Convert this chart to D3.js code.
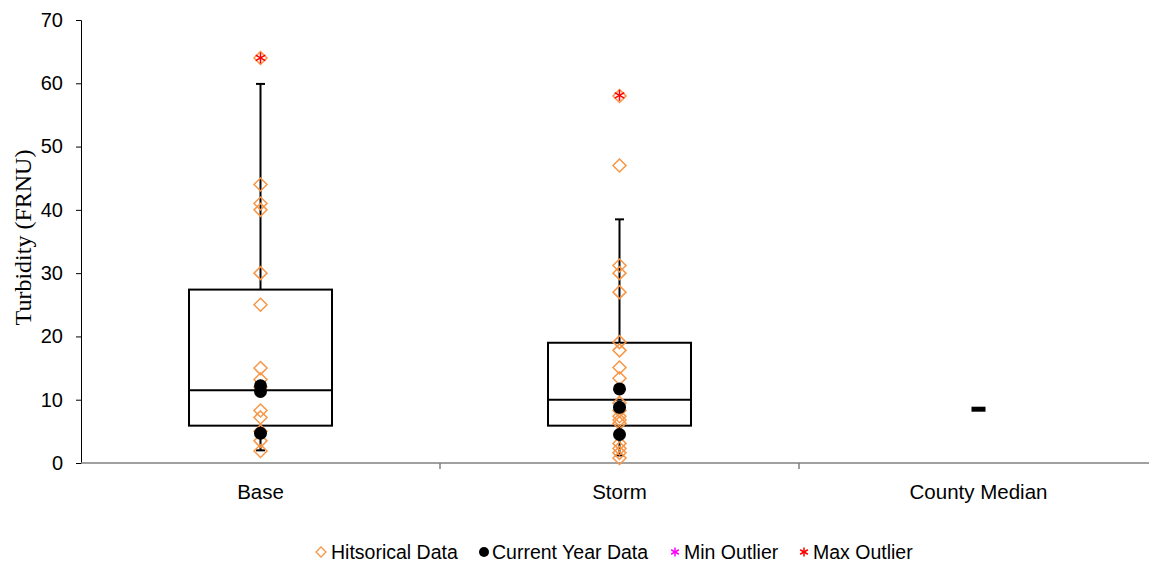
<!DOCTYPE html>
<html>
<head>
<meta charset="utf-8">
<script src="https://cdn.jsdelivr.net/npm/d3@7"></script>
<style>
  body { margin: 0; background: #fff; }
  svg { display: block; font-family: Arial, "Liberation Sans", sans-serif; }
</style>
</head>
<body>
<div id="chart"></div>
<script>
// Categories and box statistics
const categories = ['Base', 'Storm', 'County Median'];
const boxStats = [
    { cat: 'Base', low: 2.0, q1: 5.9, median: 11.5, q3: 27.4, high: 59.9 },
    { cat: 'Storm', low: 1.2, q1: 5.9, median: 10.0, q3: 19.0, high: 38.5 }
];
const countyMedian = 8.5;

// Historical data points (diamonds)
const baseHistorical = [64, 44, 41, 40, 30, 25, 15, 13.2, 12, 8.3, 7.2, 5, 3.5, 1.9];
const stormHistorical = [58, 47, 31.2, 30, 27, 19.1, 17.8, 15.1, 13.4, 9.5, 8.3, 7.4, 6.8, 6.3, 3.1, 2.3, 1.6, 0.8];

// Current year data points (black dots)
const baseCurrent = [12.2, 11.3, 4.7];
const stormCurrent = [11.7, 8.8, 4.5];

// Outliers
const maxOutliers = [{ cat: 'Base', value: 64 }, { cat: 'Storm', value: 58.1 }];

const yTicks = [0, 10, 20, 30, 40, 50, 60, 70];

const width = 1149, height = 566;
const orange = '#F79646';

const svg = d3.select('#chart').append('svg')
    .attr('width', width)
    .attr('height', height);

const x = d3.scaleBand()
    .domain(categories)
    .range([81, 1158])
    .paddingInner(0)
    .paddingOuter(0);

const y = d3.scaleLinear()
    .domain([0, 70])
    .range([463, 20]);

const cx = c => x(c) + x.bandwidth() / 2;

// Y axis
const yAxis = d3.axisLeft(y)
    .tickValues(yTicks)
    .tickSize(5)
    .tickPadding(13);

const yg = svg.append('g')
    .attr('transform', 'translate(81,0)')
    .call(yAxis);
yg.select('.domain').attr('stroke', '#000').attr('stroke-width', 1);
yg.selectAll('.tick line').attr('stroke', '#000');
yg.selectAll('.tick text')
    .attr('font-size', '20px')
    .attr('font-family', 'Arial, "Liberation Sans", sans-serif')
    .attr('fill', '#000');

// X axis line
svg.append('line')
    .attr('x1', 81).attr('x2', width)
    .attr('y1', y(0)).attr('y2', y(0))
    .attr('stroke', '#808080')
    .attr('stroke-width', 1.5);

// Category dividers
categories.slice(1).forEach(c => {
    svg.append('line')
        .attr('x1', x(c)).attr('x2', x(c))
        .attr('y1', y(0)).attr('y2', y(0) + 6)
        .attr('stroke', '#808080')
        .attr('stroke-width', 1.5);
});

// Category labels
svg.selectAll('.cat-label')
    .data(categories)
    .enter()
    .append('text')
    .attr('class', 'cat-label')
    .attr('x', d => cx(d))
    .attr('y', 499)
    .attr('text-anchor', 'middle')
    .attr('font-size', '20.5px')
    .text(d => d);

// Y axis title
svg.append('text')
    .attr('transform', `translate(31,${y(35) - 4}) rotate(-90)`)
    .attr('text-anchor', 'middle')
    .attr('font-family', '"Liberation Serif", "Times New Roman", serif')
    .attr('font-size', '24px')
    .text('Turbidity (FRNU)');

// Boxes and whiskers
const boxW = 143, capW = 9;
const boxes = svg.selectAll('.box')
    .data(boxStats)
    .enter()
    .append('g')
    .attr('class', 'box');

boxes.append('rect')
    .attr('x', d => cx(d.cat) - boxW / 2)
    .attr('y', d => y(d.q3))
    .attr('width', boxW)
    .attr('height', d => y(d.q1) - y(d.q3))
    .attr('fill', '#fff')
    .attr('stroke', '#000')
    .attr('stroke-width', 2);

boxes.append('line')
    .attr('x1', d => cx(d.cat) - boxW / 2).attr('x2', d => cx(d.cat) + boxW / 2)
    .attr('y1', d => y(d.median)).attr('y2', d => y(d.median))
    .attr('stroke', '#000').attr('stroke-width', 2);

['high', 'low'].forEach(k => {
    boxes.append('line')
        .attr('x1', d => cx(d.cat) - capW / 2).attr('x2', d => cx(d.cat) + capW / 2)
        .attr('y1', d => y(d[k])).attr('y2', d => y(d[k]))
        .attr('stroke', '#000').attr('stroke-width', 2);
});

// Whisker segments outside the box
boxes.append('line')
    .attr('x1', d => cx(d.cat)).attr('x2', d => cx(d.cat))
    .attr('y1', d => y(d.high)).attr('y2', d => y(d.q3))
    .attr('stroke', '#000').attr('stroke-width', 2);
boxes.append('line')
    .attr('x1', d => cx(d.cat)).attr('x2', d => cx(d.cat))
    .attr('y1', d => y(d.q1)).attr('y2', d => y(d.low))
    .attr('stroke', '#000').attr('stroke-width', 2);

// County median marker
svg.append('line')
    .attr('x1', cx('County Median') - 7).attr('x2', cx('County Median') + 7)
    .attr('y1', y(countyMedian)).attr('y2', y(countyMedian))
    .attr('stroke', '#000').attr('stroke-width', 5);

// Diamond path helper
const diamond = (px, py, r) => `M${px},${py - r}L${px + r},${py}L${px},${py + r}L${px - r},${py}Z`;

const historical = [
    ...baseHistorical.map(v => ({ cat: 'Base', value: v })),
    ...stormHistorical.map(v => ({ cat: 'Storm', value: v }))
];
svg.selectAll('.hist')
    .data(historical)
    .enter()
    .append('path')
    .attr('class', 'hist')
    .attr('d', d => diamond(cx(d.cat), y(d.value), 6.5))
    .attr('fill', 'none')
    .attr('stroke', orange)
    .attr('stroke-width', 1.5);

const current = [
    ...baseCurrent.map(v => ({ cat: 'Base', value: v })),
    ...stormCurrent.map(v => ({ cat: 'Storm', value: v }))
];
svg.selectAll('.cur')
    .data(current)
    .enter()
    .append('circle')
    .attr('class', 'cur')
    .attr('cx', d => cx(d.cat))
    .attr('cy', d => y(d.value))
    .attr('r', 6.5)
    .attr('fill', '#000');

// Asterisk helper
function asterisk(g, px, py, r, color) {
    [0, 60, 120].forEach(a => {
        const rad = a * Math.PI / 180;
        g.append('line')
            .attr('x1', px - r * Math.sin(rad)).attr('y1', py - r * Math.cos(rad))
            .attr('x2', px + r * Math.sin(rad)).attr('y2', py + r * Math.cos(rad))
            .attr('stroke', color).attr('stroke-width', 1.5);
    });
}

maxOutliers.forEach(d => asterisk(svg, cx(d.cat), y(d.value), 5.5, '#FF0000'));

// Legend
const legend = svg.append('g').attr('class', 'legend');
const ly = 553;
const lfs = '19.5px';
legend.append('path')
    .attr('d', diamond(321, ly - 1, 5))
    .attr('fill', 'none').attr('stroke', orange).attr('stroke-width', 1.3);
legend.append('text').attr('x', 331).attr('y', ly + 6).attr('font-size', lfs).text('Hitsorical Data');

legend.append('circle').attr('cx', 484).attr('cy', ly - 1).attr('r', 5).attr('fill', '#000');
legend.append('text').attr('x', 492).attr('y', ly + 6).attr('font-size', lfs).text('Current Year Data');

asterisk(legend, 675, ly - 1, 4.5, '#FF00FF');
legend.append('text').attr('x', 684).attr('y', ly + 6).attr('font-size', lfs).text('Min Outlier');

asterisk(legend, 804, ly - 1, 4.5, '#FF0000');
legend.append('text').attr('x', 813).attr('y', ly + 6).attr('font-size', lfs).text('Max Outlier');
</script>
</body>
</html>
